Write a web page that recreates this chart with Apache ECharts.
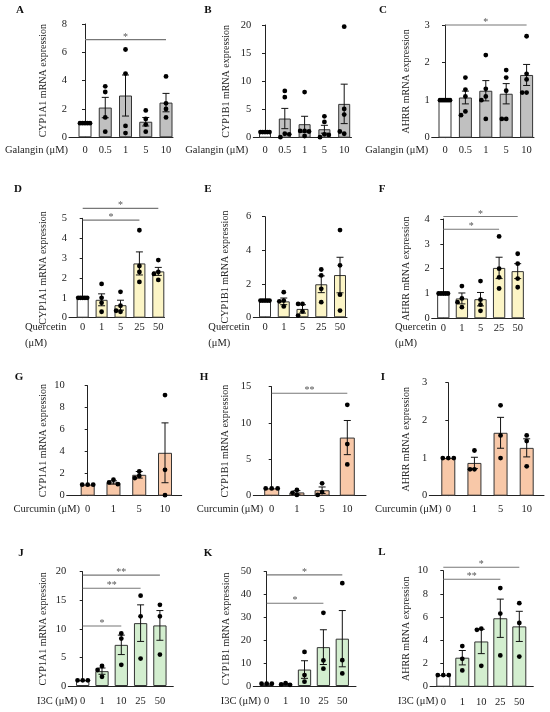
<!DOCTYPE html>
<html>
<head>
<meta charset="utf-8">
<script src="https://cdn.jsdelivr.net/npm/echarts@6/dist/echarts.min.js"></script>
<style>
html,body{margin:0;padding:0;background:#fff}
#main{width:550px;height:712px}
</style>
</head>
<body>
<div id="main"></div>
<script>
// ---- doses (categories)
var galanginDose = ['0', '0.5', '1', '5', '10'];
var quercetinDose = ['0', '1', '5', '25', '50'];
var curcuminDose = ['0', '1', '5', '10'];
var i3cDose = ['0', '1', '10', '25', '50'];

// ---- y tick labels
var A_ticks = [0, 2, 4, 6, 8];
var B_ticks = [0, 5, 10, 15, 20];
var C_ticks = [0, 1, 2, 3];
var D_ticks = [0, 1, 2, 3, 4, 5];
var E_ticks = [0, 2, 4, 6];
var F_ticks = [0, 1, 2, 3, 4];
var G_ticks = [0, 2, 4, 6, 8, 10];
var H_ticks = [0, 5, 10, 15];
var I_ticks = [0, 1, 2, 3];
var J_ticks = [0, 5, 10, 15, 20];
var K_ticks = [0, 10, 20, 30, 40, 50];
var L_ticks = [0, 2, 4, 6, 8, 10];

// ---- means and SEM
var A_mean = [1.0, 2.1, 2.95, 1.1, 2.45];
var A_sem = [0, 0.72, 1.45, 0.3, 0.65];
var B_mean = [1.0, 3.4, 2.4, 1.5, 6.0];
var B_sem = [0, 1.8, 1.4, 0.7, 3.5];
var C_mean = [1.0, 1.07, 1.25, 1.17, 1.67];
var C_sem = [0, 0.17, 0.27, 0.27, 0.28];
var D_mean = [1.0, 0.9, 0.63, 2.73, 2.33];
var D_sem = [0, 0.3, 0.25, 0.58, 0.2];
var E_mean = [1.0, 0.95, 0.5, 1.97, 2.52];
var E_sem = [0, 0.2, 0.25, 0.5, 1.06];
var F_mean = [1.0, 0.8, 0.77, 2.03, 1.9];
var F_sem = [0, 0.22, 0.27, 0.43, 0.3];
var G_mean = [1.0, 1.2, 1.9, 3.9];
var G_sem = [0, 0.15, 0.3, 2.72];
var H_mean = [1.0, 0.45, 0.75, 8.0];
var H_sem = [0, 0.25, 0.45, 2.35];
var I_mean = [1.0, 0.87, 1.67, 1.27];
var I_sem = [0, 0.15, 0.41, 0.24];
var J_mean = [1.0, 2.6, 7.2, 11.0, 10.6];
var J_sem = [0, 0.55, 1.7, 3.2, 2.6];
var K_mean = [1.0, 0.8, 7.2, 17.0, 20.7];
var K_sem = [0, 0.3, 3.85, 7.6, 12.3];
var L_mean = [1.0, 2.5, 3.9, 5.9, 5.2];
var L_sem = [0, 0.62, 1.05, 1.65, 1.3];

// ---- individual points
var A_pts = [[1, 1, 1, 1, 1], [3.6, 3.2, 1.4, 0.4], [6.2, 4.5, 0.8, 0.3], [1.9, 1.3, 0.9, 0.4], [4.3, 2.4, 2.0, 1.4]];
var B_pts = [[1, 1, 1, 1, 1], [8.3, 7.2, 0.7, 0.1, 0.6], [8.1, 1.2, 0.3, 1.2, 1.1], [3.8, 2.8, 0.6, 0.1, 0.5], [19.7, 5.1, 4.1, 0.7, 1.1]];
var C_pts = [[1, 1, 1, 1, 1, 1], [1.6, 1.28, 1.1, 0.7, 0.6], [2.2, 1.3, 1.1, 1.0, 0.5], [1.8, 1.6, 1.25, 0.5, 0.5], [2.7, 1.7, 1.55, 1.2, 1.2]];
var D_pts = [[1, 1, 1, 1, 1], [1.7, 1.0, 0.75, 0.3], [1.3, 0.6, 0.3, 0.35], [4.4, 2.6, 2.3, 1.8], [2.9, 2.3, 2.2, 1.9]];
var E_pts = [[1, 1, 1, 1, 1], [1.5, 1.0, 0.95, 0.65], [0.8, 0.8, 0.35, 0.1], [2.85, 2.5, 1.7, 0.9], [5.2, 3.1, 1.35, 0.4]];
var F_pts = [[1, 1, 1, 1, 1], [1.3, 0.8, 0.45, 0.65], [1.5, 0.55, 0.3, 0.75], [3.3, 2.0, 1.65, 1.2], [2.6, 2.2, 1.6, 1.25]];
var G_pts = [[1, 1, 1], [1.45, 1.2, 1.05], [2.2, 1.8, 1.6], [9.15, 2.35, 0.05]];
var H_pts = [[1, 1, 1], [0.8, 0.4, 0.1], [1.7, 0.5, 0.1], [12.5, 7.1, 4.3]];
var I_pts = [[1, 1, 1], [1.2, 0.7, 0.7], [2.4, 1.6, 1.0], [1.6, 1.45, 0.78]];
var J_pts = [[1, 1, 1], [3.5, 2.8, 1.6], [9.2, 8.3, 3.7], [15.8, 12.2, 4.8], [14.2, 12.2, 5.5]];
var K_pts = [[1, 1, 1], [1.3, 0.7, 0.5], [14.9, 4.8, 1.9], [32, 11.2, 7.6], [45, 11.3, 5.5]];
var L_pts = [[1, 1, 1], [3.5, 2.4, 1.4], [5.0, 4.9, 1.8], [8.5, 6.3, 2.7], [7.2, 5.5, 2.6]];

// ---- significance brackets: [from group, to group, y value, label]
var A_sig = [[0, 4, 6.9, '*']];
var B_sig = [];
var C_sig = [[0, 4, 3.0, '*']];
var D_sig = [[0, 4, 5.5, '*'], [0, 3, 4.91, '*']];
var E_sig = [];
var F_sig = [[0, 4, 4.1, '*'], [0, 3, 3.59, '*']];
var G_sig = [];
var H_sig = [[0, 3, 14.1, '**']];
var I_sig = [];
var J_sig = [[0, 4, 19.4, '**'], [0, 3, 17.1, '**'], [0, 2, 10.5, '*']];
var K_sig = [[0, 4, 48.6, '*'], [0, 3, 36.2, '*']];
var L_sig = [[0, 4, 10.3, '*'], [0, 3, 9.26, '**']];

// ---- styles
var FONT = 'Liberation Serif';
var grey = '#c0c0c0', yellow = '#fcf5c6', peach = '#f8c8a8', green = '#d3eecf';

// layout in pixels: axis x, first bar centre, band, axis end, top, zero line, bar width
var panels = [
    {id: 'A', dose: galanginDose, ticks: A_ticks, mean: A_mean, sem: A_sem, pts: A_pts, sig: A_sig, name: 'CYP1A1 mRNA expression',
     fill: ['#fff', grey, grey, grey, grey], ax: 69, c0: 85, band: 20.25, end: 173, top: 24, zero: 137.3, bw: 13, nameDist: 26, lab: 12.5,
     letter: [20, 10], doseText: {x: 68, y: 150, align: 'right', lines: ['Galangin (μM)']}},
    {id: 'B', dose: galanginDose, ticks: B_ticks, mean: B_mean, sem: B_sem, pts: B_pts, sig: B_sig, name: 'CYP1B1 mRNA expression',
     fill: ['#fff', grey, grey, grey, grey], ax: 253.3, c0: 265, band: 19.8, end: 351.5, top: 25, zero: 137.7, bw: 12, nameDist: 26.6, lab: 12.5,
     letter: [208, 10], doseText: {x: 248.3, y: 150, align: 'right', lines: ['Galangin (μM)']}},
    {id: 'C', dose: galanginDose, ticks: C_ticks, mean: C_mean, sem: C_sem, pts: C_pts, sig: C_sig, name: 'AHRR mRNA expression',
     fill: ['#fff', grey, grey, grey, grey], ax: 431.7, c0: 445, band: 20.4, end: 534, top: 25, zero: 137.7, bw: 13, nameDist: 25, lab: 12.5,
     letter: [383, 10], doseText: {x: 428.3, y: 150, align: 'right', lines: ['Galangin (μM)']}},
    {id: 'D', dose: quercetinDose, ticks: D_ticks, mean: D_mean, sem: D_sem, pts: D_pts, sig: D_sig, name: 'CYP1A1 mRNA expression',
     fill: ['#fff', yellow, yellow, yellow, yellow], ax: 69, c0: 82.7, band: 18.9, end: 164.5, top: 218.3, zero: 317.7, bw: 12, nameDist: 26, lab: 9.5,
     letter: [18, 189], doseText: {x: 25, y: 327, align: 'left', lines: ['Quercetin', '(μM)']}},
    {id: 'E', dose: quercetinDose, ticks: E_ticks, mean: E_mean, sem: E_sem, pts: E_pts, sig: E_sig, name: 'CYP1B1 mRNA expression',
     fill: ['#fff', yellow, yellow, yellow, yellow], ax: 253.3, c0: 265, band: 18.75, end: 347, top: 216.7, zero: 317.3, bw: 12, nameDist: 28, lab: 10,
     letter: [208, 189], doseText: {x: 208.3, y: 327, align: 'left', lines: ['Quercetin', '(μM)']}},
    {id: 'F', dose: quercetinDose, ticks: F_ticks, mean: F_mean, sem: F_sem, pts: F_pts, sig: F_sig, name: 'AHRR mRNA expression',
     fill: ['#fff', yellow, yellow, yellow, yellow], ax: 431.7, c0: 443.3, band: 18.6, end: 524.5, top: 219, zero: 318.3, bw: 12.3, nameDist: 25, lab: 9.5,
     letter: [382, 189], doseText: {x: 395, y: 327, align: 'left', lines: ['Quercetin', '(μM)']}},
    {id: 'G', dose: curcuminDose, ticks: G_ticks, mean: G_mean, sem: G_sem, pts: G_pts, sig: G_sig, name: 'CYP1A1 mRNA expression',
     fill: [peach, peach, peach, peach], ax: 66.7, c0: 87.7, band: 25.77, end: 181.7, top: 385.7, zero: 495.7, bw: 14, nameDist: 23.4, lab: 13.6,
     letter: [19, 377], doseText: {x: 80, y: 509.3, align: 'right', lines: ['Curcumin (μM)']}},
    {id: 'H', dose: curcuminDose, ticks: H_ticks, mean: H_mean, sem: H_sem, pts: H_pts, sig: H_sig, name: 'CYP1B1 mRNA expression',
     fill: [peach, peach, peach, peach], ax: 253.3, c0: 271.7, band: 25.2, end: 366, top: 386.7, zero: 495.7, bw: 15, nameDist: 28, lab: 13.6,
     letter: [204, 377], doseText: {x: 263.3, y: 509.3, align: 'right', lines: ['Curcumin (μM)']}},
    {id: 'I', dose: curcuminDose, ticks: I_ticks, mean: I_mean, sem: I_sem, pts: I_pts, sig: I_sig, name: 'AHRR mRNA expression',
     fill: [peach, peach, peach, peach], ax: 429.3, c0: 448.3, band: 26.13, end: 544, top: 382.7, zero: 495.7, bw: 14, nameDist: 22.6, lab: 13.6,
     letter: [383, 377], doseText: {x: 441.7, y: 509.3, align: 'right', lines: ['Curcumin (μM)']}},
    {id: 'J', dose: i3cDose, ticks: J_ticks, mean: J_mean, sem: J_sem, pts: J_pts, sig: J_sig, name: 'CYP1A1 mRNA expression',
     fill: ['#fff', green, green, green, green], ax: 68.3, c0: 82.7, band: 19.3, end: 173.3, top: 571.7, zero: 686, bw: 13.3, nameDist: 25, lab: 15.7,
     letter: [21, 553], doseText: {x: 77.3, y: 701.7, align: 'right', lines: ['I3C (μM)']}},
    {id: 'K', dose: i3cDose, ticks: K_ticks, mean: K_mean, sem: K_sem, pts: K_pts, sig: K_sig, name: 'CYP1B1 mRNA expression',
     fill: ['#fff', green, green, green, green], ax: 253.3, c0: 266.7, band: 18.9, end: 356, top: 571.7, zero: 686, bw: 13.3, nameDist: 26.6, lab: 15.7,
     letter: [208, 553], doseText: {x: 261, y: 701.7, align: 'right', lines: ['I3C (μM)']}},
    {id: 'L', dose: i3cDose, ticks: L_ticks, mean: L_mean, sem: L_sem, pts: L_pts, sig: L_sig, name: 'AHRR mRNA expression',
     fill: ['#fff', green, green, green, green], ax: 430, c0: 443.3, band: 19, end: 533.3, top: 570.7, zero: 686.7, bw: 14, nameDist: 23.3, lab: 15.7,
     letter: [382, 552], doseText: {x: 438.3, y: 701.7, align: 'right', lines: ['I3C (μM)']}}
];

// side by side placement of dots that would overlap
function dotOffsets(vals, ppu, bw) {
    var same = vals.every(function (v) { return v === vals[0]; });
    if (same && vals.length > 1) {
        var step = (bw - 3) / (vals.length - 1);
        return vals.map(function (v, i) { return (i - (vals.length - 1) / 2) * step; });
    }
    var placed = [], order = [0, -1, 1, -2, 2, -3, 3], d = 4.4;
    return vals.map(function (v) {
        var y = v * ppu;
        for (var k = 0; k < order.length; k++) {
            var s = order[k];
            var clash = placed.some(function (p) { return p.s === s && Math.abs(p.y - y) < d; });
            if (!clash) {
                placed.push({s: s, y: y});
                return s * d;
            }
        }
        return 0;
    });
}

var grids = [], xAxes = [], yAxes = [], series = [], graphics = [];

panels.forEach(function (p, idx) {
    var ymax = p.ticks[p.ticks.length - 1];
    var yint = p.ticks[1] - p.ticks[0];
    var ppu = (p.zero - p.top) / ymax;

    grids.push({left: p.ax, top: p.top, width: p.end - p.ax, height: p.zero - p.top});

    xAxes.push({
        type: 'value', gridIndex: idx,
        min: (p.ax - p.c0) / p.band, max: (p.end - p.c0) / p.band,
        axisLine: {show: true, lineStyle: {color: '#222', width: 1}},
        axisTick: {show: false},
        splitLine: {show: false},
        axisLabel: {
            customValues: p.dose.map(function (d, i) { return i; }),
            formatter: function (v) { return p.dose[Math.round(v)]; },
            fontFamily: FONT, fontSize: 10.5, color: '#222', margin: p.lab - 5.5
        }
    });

    yAxes.push({
        type: 'value', gridIndex: idx, min: 0, max: ymax, interval: yint,
        name: p.name, nameLocation: 'middle', nameGap: p.nameDist - 5,
        nameTextStyle: {fontFamily: FONT, fontSize: 10, color: '#222'},
        axisLine: {show: true, lineStyle: {color: '#222', width: 1}},
        axisTick: {show: true, length: 3, lineStyle: {color: '#222'}},
        splitLine: {show: false},
        axisLabel: {fontFamily: FONT, fontSize: 10.5, color: '#222', margin: 2}
    });

    series.push({
        type: 'bar', xAxisIndex: idx, yAxisIndex: idx, z: 2,
        barWidth: p.bw, silent: true,
        data: p.mean.map(function (m, i) {
            return {value: [i, m], itemStyle: {color: p.fill[i], borderColor: '#333', borderWidth: 1}};
        })
    });

    // SEM error bars
    series.push({
        type: 'custom', xAxisIndex: idx, yAxisIndex: idx, silent: true, z: 5,
        data: p.mean.map(function (m, i) { return [i, m - p.sem[i], m + p.sem[i]]; })
            .filter(function (d) { return d[2] > d[1]; }),
        renderItem: function (params, api) {
            var a = api.coord([api.value(0), api.value(1)]);
            var b = api.coord([api.value(0), api.value(2)]);
            var w = 3.5, st = {stroke: '#111', lineWidth: 1};
            return {type: 'group', children: [
                {type: 'line', shape: {x1: a[0], y1: a[1], x2: b[0], y2: b[1]}, style: st},
                {type: 'line', shape: {x1: b[0] - w, y1: b[1], x2: b[0] + w, y2: b[1]}, style: st},
                {type: 'line', shape: {x1: a[0] - w, y1: a[1], x2: a[0] + w, y2: a[1]}, style: st}
            ]};
        }
    });

    // individual replicates
    var dots = [];
    p.pts.forEach(function (vals, i) {
        var off = dotOffsets(vals, ppu, p.bw);
        vals.forEach(function (v, j) { dots.push([i, v, off[j]]); });
    });
    series.push({
        type: 'custom', xAxisIndex: idx, yAxisIndex: idx, silent: true, clip: false, z: 6,
        data: dots,
        renderItem: function (params, api) {
            var c = api.coord([api.value(0), api.value(1)]);
            return {type: 'circle', shape: {cx: c[0] + api.value(2), cy: c[1], r: 2.4}, style: {fill: '#000'}};
        }
    });

    if (p.sig.length) {
        series.push({
            type: 'custom', xAxisIndex: idx, yAxisIndex: idx, silent: true, clip: false, z: 6,
            data: p.sig.map(function (s) { return [s[0], s[1], s[2]]; }),
            renderItem: function (params, api) {
                var a = api.coord([api.value(0), api.value(2)]);
                var b = api.coord([api.value(1), api.value(2)]);
                return {type: 'group', children: [
                    {type: 'line', shape: {x1: a[0], y1: a[1], x2: b[0], y2: b[1]}, style: {stroke: '#777', lineWidth: 1.1}},
                    {type: 'text', x: (a[0] + b[0]) / 2, y: a[1] - 2.5,
                     style: {text: p.sig[params.dataIndex][3], fill: '#555', font: '10px "' + FONT + '"', align: 'center', verticalAlign: 'middle'}}
                ]};
            }
        });
    }

    graphics.push({
        type: 'text', x: p.letter[0], y: p.letter[1],
        style: {text: p.id, fill: '#111', font: 'bold 11px "' + FONT + '"', align: 'center', verticalAlign: 'middle'}
    });
    p.doseText.lines.forEach(function (t, k) {
        graphics.push({
            type: 'text', x: p.doseText.x, y: p.doseText.y + k * 16.5,
            style: {text: t, fill: '#222', font: '10.5px "' + FONT + '"', align: p.doseText.align, verticalAlign: 'middle'}
        });
    });
});

var chart = echarts.init(document.getElementById('main'), null, {renderer: 'canvas'});
chart.setOption({
    backgroundColor: '#fff',
    animation: false,
    grid: grids,
    xAxis: xAxes,
    yAxis: yAxes,
    series: series,
    graphic: graphics
});
</script>
</body>
</html>
